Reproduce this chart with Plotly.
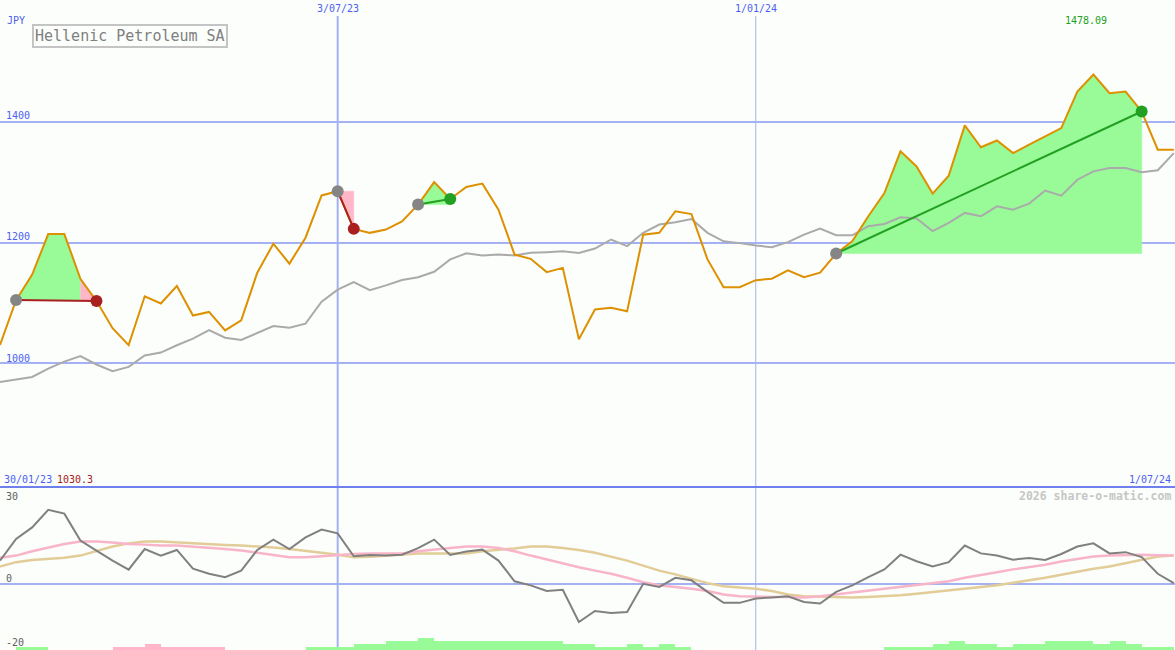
import pandas as pd
import plotly.graph_objects as go

# ---------------- data ----------------
start_date = "2023-02-06"
n_points = 74
dates = pd.date_range(start_date, periods=n_points, freq="7D")

price = [1030.3, 1104.6, 1147, 1214, 1214, 1140, 1103, 1058, 1030, 1111,
         1099, 1128, 1079, 1085, 1054.5, 1071, 1150, 1198, 1165, 1208,
         1278, 1285, 1222.6, 1216, 1221.5, 1235, 1262.8, 1300, 1272, 1292,
         1297.5, 1254.5, 1180, 1173, 1151, 1158, 1039.7, 1089, 1092, 1086,
         1213, 1216, 1251.8, 1247, 1172, 1126, 1126, 1137.7, 1140, 1154,
         1142.6, 1150, 1181.8, 1202, 1243.5, 1282, 1351, 1326, 1281, 1310.7,
         1394, 1357.8, 1369, 1348, 1362, 1375.7, 1389.6, 1450, 1478.09, 1447.4,
         1450, 1417, 1353.7, 1353.7]

moving_avg = [969, 973.5, 977.4, 991, 1002.8, 1012, 998, 987, 994, 1013,
              1017.7, 1029.8, 1040.8, 1055, 1042.4, 1038.5, 1050.7, 1061.7, 1059, 1065.6,
              1102, 1122, 1134.4, 1121, 1129, 1138, 1142.6, 1151.5, 1172, 1182,
              1178.5, 1180, 1178.5, 1183, 1184, 1185.6, 1182.5, 1190, 1205, 1194,
              1216, 1229.8, 1233.6, 1239, 1216, 1202, 1199, 1195, 1192.3, 1200.6,
              1213, 1223, 1212, 1212, 1227, 1230.7, 1241.8, 1239.7, 1218.8, 1232.6,
              1249, 1243.5, 1260, 1254.5, 1264.5, 1286, 1277.7, 1304, 1317.9, 1323.5,
              1323.5, 1316.5, 1319.8, 1348]

oscillator = [7.6, 14.5, 18.2, 23.8, 22.6, 14, 10.8, 7.6, 4.7, 11.3,
              9.2, 11, 5, 3.4, 2.3, 4.4, 11, 14.3, 11.3, 15,
              17.5, 16.3, 9, 9.4, 9.2, 9.5, 11.6, 14.3, 9.4, 10.5,
              11.1, 7.6, 1, -0.3, -2.1, -1.7, -12, -8.5, -9.1, -8.8,
              0.2, -0.8, 2.1, 1.3, -2.4, -5.9, -5.9, -4.5, -4.2, -3.8,
              -5.6, -6.1, -2.4, -0.3, 2.3, 4.8, 9.5, 7.4, 5.7, 7.1,
              12.4, 9.9, 9.2, 7.9, 8.4, 7.8, 9.7, 12.1, 13.1, 9.9,
              10.3, 8.7, 3.4, 0.4]

signal_pink = [8.5, 9.2, 10.6, 11.8, 12.9, 13.7, 13.7, 13.4, 12.9, 12.7,
               12.4, 12.4, 12.1, 11.6, 11.3, 10.8, 10.2, 9.4, 8.7, 8.7,
               9, 9.4, 9.7, 9.9, 9.9, 9.9, 10.6, 11, 11.6, 12.1,
               12.1, 11.6, 10.6, 9.2, 7.9, 6.8, 5.5, 4.4, 3.4, 2.1,
               0.7, -0.3, -0.8, -1.4, -2.1, -3.2, -3.8, -4, -4, -4,
               -4.2, -3.8, -3.2, -2.8, -2.2, -1.6, -1, -0.3, 0.4, 1,
               2.1, 3.1, 3.9, 4.8, 5.5, 6.3, 7.3, 8.2, 8.9, 9.2,
               9.4, 9.5, 9.3, 9.2]

signal_tan = [5.7, 7.1, 7.8, 8.2, 8.5, 9.2, 10.6, 12.1, 13.1, 13.7,
              13.7, 13.4, 13.1, 12.7, 12.6, 12.4, 12.2, 11.8, 11.3, 10.8,
              10.1, 9.5, 8.7, 8.8, 9.2, 9.5, 9.9, 9.9, 9.9, 9.9,
              10.6, 11, 11.5, 12.1, 12.1, 11.6, 11, 10.1, 8.9, 7.6,
              6, 4.4, 3.2, 1.8, 0.4, -0.6, -1, -1.4, -2.1, -3.2,
              -3.8, -4, -4.2, -4.2, -4, -3.8, -3.5, -3, -2.4, -1.9,
              -1.4, -0.8, -0.3, 0.4, 1.3, 2.1, 3.1, 3.9, 5, 5.7,
              6.8, 7.8, 8.9, 9.2]

# weekly volume levels (bar i spans week i -> i+1), negative = pink
volume_level = [0, 1, 1, 0, 0, 0, 0, -1, -1, -2,
                -1, -1, -1, -1, 0, 0, 0, 0, 0, 1,
                1, 1, 2, 2, 3, 3, 4, 3, 3, 3,
                3, 3, 3, 3, 3, 2, 2, 1, 1, 2,
                1, 2, 1, 0, 0, 0, 0, 0, 0, 0,
                0, 0, 0, 0, 0, 1, 1, 1, 2, 3,
                2, 2, 1, 2, 2, 3, 3, 3, 2, 3,
                2, 1, 1]

# trades: (entry index, exit index)
trades = [(1, 6), (21, 22), (26, 28), (52, 71)]

vline_dates = ["2023-07-03", "2024-01-01"]
vline_labels = ["3/07/23", "1/01/24"]
vline_widths = [2, 1]
price_ticks = [1000, 1200, 1400]
osc_ticks = [0]

# ---------------- styling ----------------
BG = "#fbfefb"
GRID = "#a4b2f4"
BLUE_TXT = "#4d5ef0"
GREEN_FILL = "#98fb98"
PINK_FILL = "#ffb6c8"
MONO = "DejaVu Sans Mono"
W, H = 1175, 650

fig = go.Figure()

# trade fills (between price and entry level); last leg coloured by outcome
for (a, b) in trades:
    level = price[a]
    profit = price[b] > price[a]
    if profit:
        segs = [(a, b, GREEN_FILL)]
    elif b - a > 1:
        segs = [(a, b - 1, GREEN_FILL), (b - 1, b, PINK_FILL)]
    else:
        segs = [(a, b, PINK_FILL)]
    for (s, e, col) in segs:
        xs = list(dates[s:e + 1]) + [dates[e], dates[s]]
        ys = price[s:e + 1] + [level, level]
        fig.add_trace(go.Scatter(x=xs, y=ys, fill="toself", fillcolor=col,
                                 mode="lines", line=dict(width=0.5, color=col),
                                 hoverinfo="skip", showlegend=False))

# moving average
fig.add_trace(go.Scatter(x=dates, y=moving_avg, mode="lines",
                         line=dict(color="#aaaaaa", width=2), hoverinfo="skip"))
# price
fig.add_trace(go.Scatter(x=dates, y=price, mode="lines",
                         line=dict(color="#dd9000", width=2), hoverinfo="skip"))

# trade lines + markers
for (a, b) in trades:
    profit = price[b] > price[a]
    col = "#22a022" if profit else "#a82020"
    fig.add_trace(go.Scatter(x=[dates[a], dates[b]], y=[price[a], price[b]], mode="lines",
                             line=dict(color=col, width=2), hoverinfo="skip"))
    fig.add_trace(go.Scatter(x=[dates[a]], y=[price[a]], mode="markers",
                             marker=dict(color="#858585", size=12), hoverinfo="skip"))
    fig.add_trace(go.Scatter(x=[dates[b]], y=[price[b]], mode="markers",
                             marker=dict(color=col, size=12), hoverinfo="skip"))

# volume bars
bar_x = [d + pd.Timedelta(hours=84) for d in dates[:len(volume_level)]]
fig.add_trace(go.Bar(x=bar_x, y=[abs(v) for v in volume_level],
                     marker=dict(color=[GREEN_FILL if v > 0 else PINK_FILL for v in volume_level],
                                 line=dict(width=0)),
                     width=7 * 24 * 3600 * 1000, xaxis="x", yaxis="y3", hoverinfo="skip"))

# oscillator panel
fig.add_trace(go.Scatter(x=dates, y=signal_tan, mode="lines", yaxis="y2",
                         line=dict(color="#e2cc98", width=2.5), hoverinfo="skip"))
fig.add_trace(go.Scatter(x=dates, y=signal_pink, mode="lines", yaxis="y2",
                         line=dict(color="#f8b4c8", width=2.5), hoverinfo="skip"))
fig.add_trace(go.Scatter(x=dates, y=oscillator, mode="lines", yaxis="y2",
                         line=dict(color="#808080", width=2), hoverinfo="skip"))

# ---------------- layout ----------------
split = (H - 487) / H
main_lo = 1000 - (487 - 364) / 0.605
main_hi = 1000 + 364 / 0.605
osc_hi = (584 - 487) / 3.15
osc_lo = (584 - 650) / 3.15

x_end = dates[0] + pd.Timedelta(days=W / (16.08 / 7))

def px(x):
    return x / W

def py(y):
    return 1 - y / H

shapes = []
for d, wdt in zip(vline_dates, vline_widths):
    shapes.append(dict(type="line", xref="x", yref="paper", x0=d, x1=d,
                       y0=0, y1=py(16), line=dict(color=GRID, width=wdt), layer="below"))
shapes.append(dict(type="line", xref="paper", yref="paper", x0=0, x1=1,
                   y0=split, y1=split, line=dict(color="#6f80ee", width=2)))

ann = []
def add_text(text, x, y, color, size=10, xanchor="left", **kw):
    ann.append(dict(text=text, x=px(x), y=py(y), xref="paper", yref="paper",
                    xanchor=xanchor, yanchor="middle", showarrow=False,
                    font=dict(family=MONO, size=size, color=color), **kw))

add_text("JPY", 5, 21, BLUE_TXT)
for t in price_ticks:
    yp = 364 - (t - 1000) * 0.605
    add_text(str(t), 4, yp - 6, BLUE_TXT)
for lbl, d in zip(vline_labels, vline_dates):
    ann.append(dict(text=lbl, x=d, y=py(9), xref="x", yref="paper", xanchor="center",
                    yanchor="middle", showarrow=False,
                    font=dict(family=MONO, size=10, color=BLUE_TXT)))
add_text(f"{max(price):.2f}", 1086, 21, "#22a022", xanchor="center")
add_text("Hellenic Petroleum SA", 32, 36, "#7f7f7f", size=15,
         bordercolor="#c4c4c4", borderwidth=2, borderpad=1)
add_text("30/01/23", 2, 479, BLUE_TXT)
add_text(f"{price[0]:.1f}", 55, 479, "#a82020")
add_text("1/07/24", 1173, 479, BLUE_TXT, xanchor="right")
add_text("<b>2026 share-o-matic.com</b>", 1173, 496, "#c6c6c6", size=11.5, xanchor="right")
add_text("30", 4, 496, "#606060")
add_text("0", 4, 578, "#606060")
add_text("-20", 4, 642, "#606060")

fig.update_layout(
    width=W, height=H,
    margin=dict(l=0, r=0, t=0, b=0),
    paper_bgcolor=BG, plot_bgcolor=BG,
    showlegend=False, hovermode=False, bargap=0,
    xaxis=dict(type="date", range=[dates[0], x_end], visible=False, fixedrange=True),
    yaxis=dict(domain=[split + 0.0015, 1], range=[main_lo, main_hi], tickvals=price_ticks,
               showticklabels=False, showgrid=True, gridcolor=GRID, gridwidth=2,
               zeroline=False, showline=False, ticks=""),
    yaxis2=dict(domain=[0, split - 0.0015], range=[osc_lo, osc_hi], tickvals=osc_ticks,
                showticklabels=False, showgrid=True, gridcolor=GRID, gridwidth=2,
                zeroline=False, showline=False, ticks="", anchor="x"),
    yaxis3=dict(overlaying="y2", range=[0, 54], visible=False, anchor="x"),
    shapes=shapes, annotations=ann,
)

fig.write_html("out.html", config={"displayModeBar": False},
               post_script="document.body.style.margin='0';document.body.style.padding='0';"
                           "document.body.style.overflow='hidden';document.body.style.background='" + BG + "';")
